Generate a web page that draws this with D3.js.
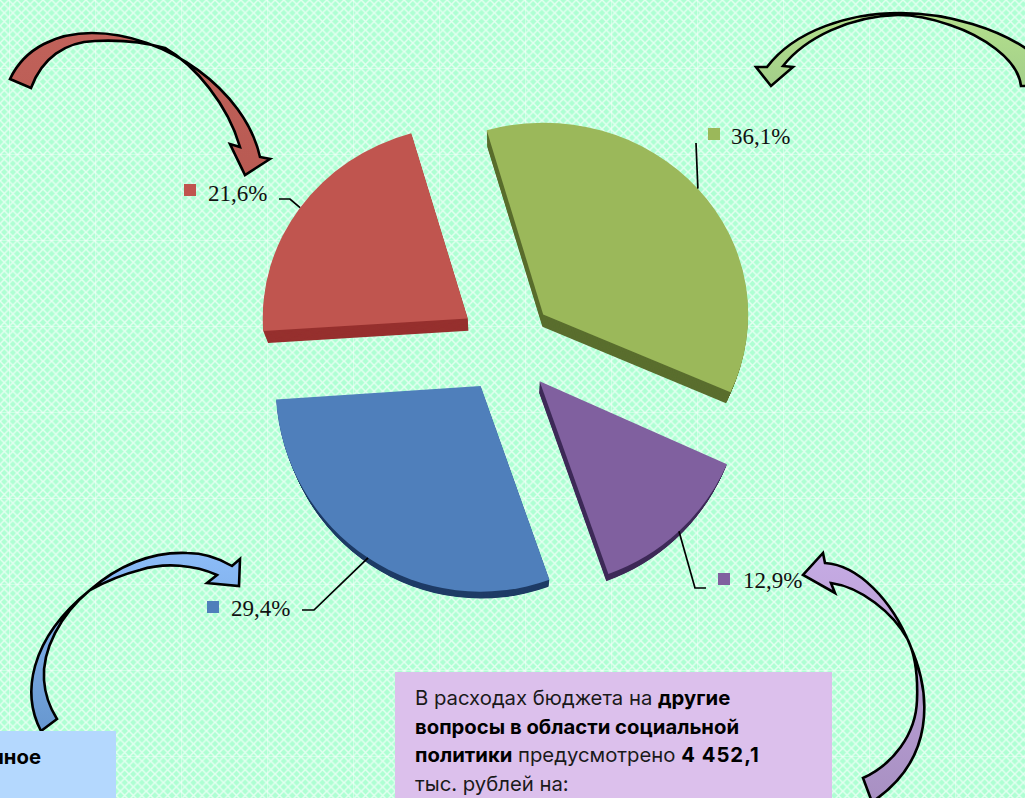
<!DOCTYPE html>
<html>
<head>
<meta charset="utf-8">
<script src="https://cdn.jsdelivr.net/npm/d3@7"></script>
<style>
  html, body { margin: 0; padding: 0; overflow: hidden; background: #b6ffd9; }
  svg { display: block; }
  .lbl { font-family: "Liberation Serif", serif; font-size: 23px; fill: #111; }
  .box-text { font-family: "Inter", sans-serif; font-size: 20.3px; fill: #1a1a1a; }
  .box-text .b { font-weight: 700; fill: #000; }
  .box-text .num { letter-spacing: 1px; }
</style>
</head>
<body>
<svg id="chart" width="1025" height="798"></svg>
<script>
// values, clockwise from the top-left edge of the green slice
const categories = ['green', 'purple', 'blue', 'red'];
const shares = [36.1, 12.9, 29.4, 21.6];
const shareLabels = ['36,1%', '12,9%', '29,4%', '21,6%'];
const faceColors = ['#9bb85a', '#80609f', '#4f7fbb', '#c0554f'];
const wallColors = ['#5a6e2e', '#3e2a58', '#1f3c66', '#96302e'];

const width = 1025, height = 798;
const cx = 507, cy = 346, radius = 205, explode = 48;
const startAngle = -16 * Math.PI / 180;

// label placement for each slice: key square, text, leader elbow and end
const labelPos = [
  { key: [708, 128], text: [731, 144], leader: [[696, 143]] },
  { key: [718, 573], text: [743, 588], leader: [[695, 588], [706, 588]] },
  { key: [207, 601], text: [231, 616], leader: [[314, 610], [302, 610]] },
  { key: [184, 184], text: [208, 201], leader: [[290, 199], [279, 199]] }
];

const svg = d3.select('#chart');
const defs = svg.append('defs');

// mint background: diagonal lattice with faint seams every 86px
const lattice = defs.append('pattern').attr('id', 'lattice')
  .attr('width', 8.6).attr('height', 8.6).attr('patternUnits', 'userSpaceOnUse');
lattice.append('rect').attr('width', 8.6).attr('height', 8.6).attr('fill', '#aeffd3');
lattice.append('path')
  .attr('d', 'M0,0L8.6,8.6M8.6,0L0,8.6')
  .attr('stroke', '#e4fff1').attr('stroke-width', 1.5);
const seams = defs.append('pattern').attr('id', 'seams')
  .attr('x', 9).attr('y', 68)
  .attr('width', 86).attr('height', 86).attr('patternUnits', 'userSpaceOnUse');
seams.append('path').attr('d', 'M0,0H86M0,0V86')
  .attr('stroke', '#ffffff').attr('stroke-opacity', 0.4).attr('stroke-width', 2);

svg.append('rect').attr('width', width).attr('height', height).attr('fill', 'url(#lattice)');
svg.append('rect').attr('width', width).attr('height', height).attr('fill', 'url(#seams)');

// pie
const pie = d3.pie().sort(null)
  .startAngle(startAngle)
  .endAngle(startAngle + 2 * Math.PI);
const arc = d3.arc().innerRadius(0).outerRadius(radius);
const arcs = pie(shares);

const midAngle = d => (d.startAngle + d.endAngle) / 2;
// near slices look taller than far ones
const tiltOf = d => 0.965 - 0.045 * Math.cos(midAngle(d));

function sliceCenter(d) {
  const mid = midAngle(d);
  return [cx + explode * Math.sin(mid), cy - explode * Math.cos(mid)];
}

// side walls: the slice repeated, shrinking towards a point far below the chart
const vanish = [505, 933], depth = 0.02, wallSteps = 14;

const slices = svg.selectAll('g.slice').data(arcs).join('g').attr('class', 'slice');

slices.each(function (d, i) {
  const g = d3.select(this);
  const c = sliceCenter(d);
  const base = `translate(${c[0]},${c[1]}) scale(1,${tiltOf(d)})`;
  for (let s = wallSteps; s >= 1; s--) {
    const k = 1 - depth * s / wallSteps;
    g.append('path')
      .attr('d', arc(d))
      .attr('fill', wallColors[i])
      .attr('transform',
        `translate(${vanish[0]},${vanish[1]}) scale(${k}) translate(${-vanish[0]},${-vanish[1]}) ${base}`);
  }
  g.append('path').attr('d', arc(d)).attr('fill', faceColors[i]).attr('transform', base);
});

// leaders start on the outer edge of each slice at its middle angle
svg.selectAll('path.leader').data(arcs).join('path')
  .attr('class', 'leader')
  .attr('fill', 'none').attr('stroke', '#000').attr('stroke-width', 1.7)
  .attr('d', (d, i) => {
    const c = sliceCenter(d);
    const mid = midAngle(d);
    const p = [c[0] + radius * Math.sin(mid), c[1] - radius * tiltOf(d) * Math.cos(mid)];
    return d3.line()([p, ...labelPos[i].leader]);
  });

// key squares and percentages
svg.selectAll('rect.key').data(shares).join('rect')
  .attr('class', 'key')
  .attr('x', (d, i) => labelPos[i].key[0])
  .attr('y', (d, i) => labelPos[i].key[1])
  .attr('width', 12).attr('height', 12)
  .attr('fill', (d, i) => faceColors[i]);

svg.selectAll('text.lbl').data(shareLabels).join('text')
  .attr('class', 'lbl')
  .attr('x', (d, i) => labelPos[i].text[0])
  .attr('y', (d, i) => labelPos[i].text[1])
  .text(d => d);

// curved block arrows, these are slide decoration and not data
const arrows = [
  {
    id: 'arRed', stops: ['#c0625a', '#b85a52'],
    d: 'M10,79 C25,47 58,33 92,33 C165,33 245,90 260,157 L270,159 L245,175 L230,144 L240,147 C228,105 195,65 165,48 C140,41 115,40 95,41 C65,42 42,58 31,88 Z'
  },
  {
    id: 'arGreen', stops: ['#b4e08c', '#a3cf8a'],
    d: 'M767,67 C795,30 850,13 900,13 C950,13 1000,30 1028,50 L1028,86 L1021,86 C1018,58 980,35 950,25 C930,18 915,15 898,15 C850,16 805,38 783,66 L793,67 L771,86 L756,67 Z'
  },
  {
    id: 'arBlue', stops: ['#8cbcf8', '#6797cf'],
    d: 'M41,731 C22,695 28,640 90,590 C125,560 160,552 187,553 C205,553 222,560 232,566 L240,559 L239,586 L207,583 L217,575 C195,565 165,562 140,570 C120,575 105,582 90,590 C60,615 42,650 44,680 C45,695 50,708 57,719 Z'
  },
  {
    id: 'arPurple', stops: ['#c6abe4', '#a890c2'],
    d: 'M825,563 C858,565 892,600 910,645 C932,695 935,760 872,802 L863,778 C892,765 916,735 917,700 C918,675 915,655 908,640 C893,612 860,587 831,583 L835,593 L803,575 L823,553 Z'
  }
];

const grads = defs.selectAll('linearGradient').data(arrows).join('linearGradient')
  .attr('id', d => d.id).attr('x1', 0).attr('y1', 0).attr('x2', 0).attr('y2', 1);
grads.append('stop').attr('offset', '0%').attr('stop-color', d => d.stops[0]);
grads.append('stop').attr('offset', '100%').attr('stop-color', d => d.stops[1]);

svg.selectAll('path.arrow').data(arrows).join('path')
  .attr('class', 'arrow')
  .attr('d', d => d.d)
  .attr('fill', d => `url(#${d.id})`)
  .attr('stroke', '#000').attr('stroke-width', 2.6).attr('stroke-linejoin', 'miter');

// text boxes, both cut by the edge of the slide
svg.append('rect').attr('x', 0).attr('y', 731).attr('width', 116).attr('height', 67).attr('fill', '#b4d8fe');
svg.append('text').attr('class', 'box-text').attr('x', 41).attr('y', 764)
  .attr('text-anchor', 'end').append('tspan').attr('class', 'b').text('нное');

svg.append('rect').attr('x', 395).attr('y', 672).attr('width', 437).attr('height', 126).attr('fill', '#dcc0ec');

const boxLines = [
  [['В расходах бюджета на ', ''], ['другие', 'b']],
  [['вопросы в области социальной', 'b']],
  [['политики', 'b'], [' предусмотрено ', ''], ['4 452,1', 'b num']],
  [['тыс. рублей на:', '']]
];
const boxText = svg.append('text').attr('class', 'box-text');
boxLines.forEach((runs, i) => {
  runs.forEach((run, j) => {
    const t = boxText.append('tspan').text(run[0]).attr('class', run[1]);
    if (j === 0) t.attr('x', 415).attr('y', 705 + i * 28.5);
  });
});
</script>
</body>
</html>
